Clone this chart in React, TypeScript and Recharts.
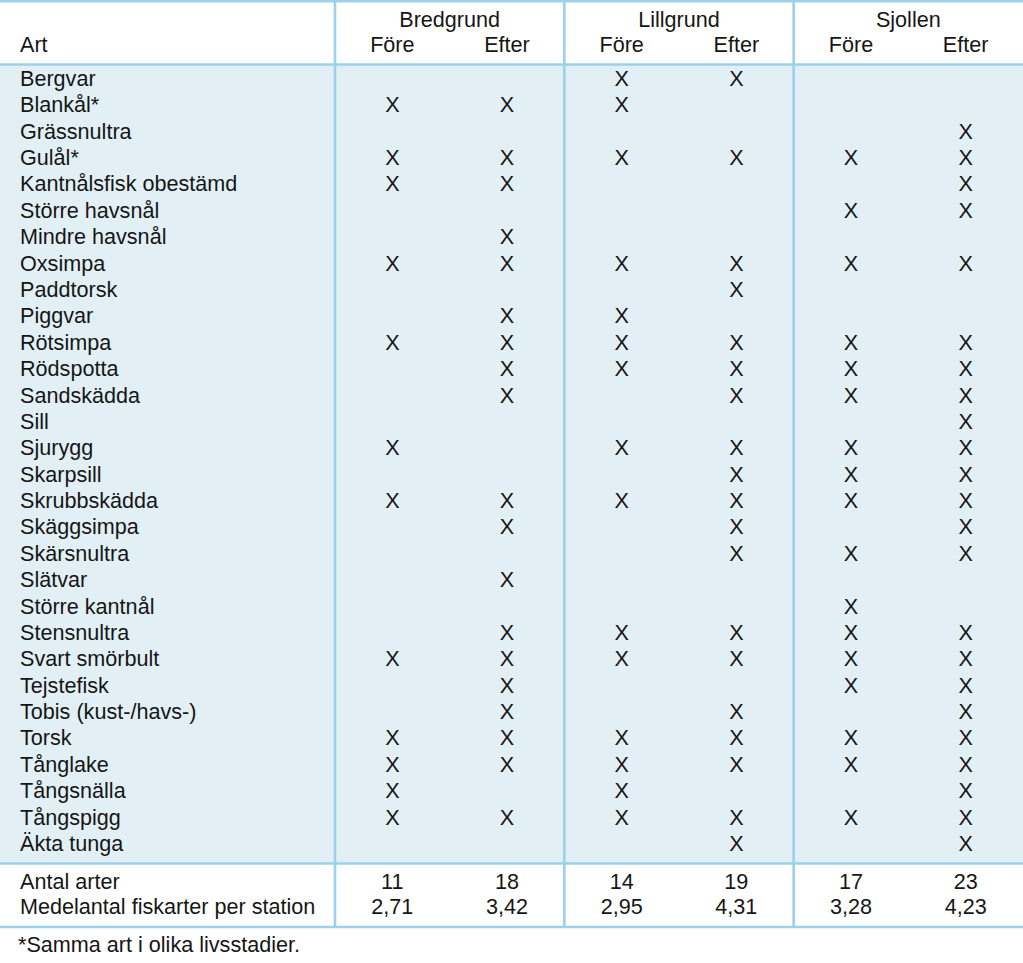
import { ScatterChart, Scatter, XAxis, YAxis, ReferenceLine, ReferenceArea } from "recharts";

const species = [
  "Bergvar", "Blankål*", "Grässnultra", "Gulål*", "Kantnålsfisk obestämd",
  "Större havsnål", "Mindre havsnål", "Oxsimpa", "Paddtorsk", "Piggvar",
  "Rötsimpa", "Rödspotta", "Sandskädda", "Sill", "Sjurygg",
  "Skarpsill", "Skrubbskädda", "Skäggsimpa", "Skärsnultra", "Slätvar",
  "Större kantnål", "Stensnultra", "Svart smörbult", "Tejstefisk", "Tobis (kust-/havs-)",
  "Torsk", "Tånglake", "Tångsnälla", "Tångspigg", "Äkta tunga",
];

const stations = ["Bredgrund", "Lillgrund", "Sjollen"];
const periods = ["Före", "Efter"];

// 1 = arten fångad
const bredgrundFore = [0,1,0,1,1,0,0,1,0,0, 1,0,0,0,1,0,1,0,0,0, 0,0,1,0,0,1,1,1,1,0];
const bredgrundEfter = [0,1,0,1,1,0,1,1,0,1, 1,1,1,0,0,0,1,1,0,1, 0,1,1,1,1,1,1,0,1,0];
const lillgrundFore = [1,1,0,1,0,0,0,1,0,1, 1,1,0,0,1,0,1,0,0,0, 0,1,1,0,0,1,1,1,1,0];
const lillgrundEfter = [1,0,0,1,0,0,0,1,1,0, 1,1,1,0,1,1,1,1,1,0, 0,1,1,0,1,1,1,0,1,1];
const sjollenFore = [0,0,0,1,0,1,0,1,0,0, 1,1,1,0,1,1,1,0,1,0, 1,1,1,1,0,1,1,0,1,0];
const sjollenEfter = [0,0,1,1,1,1,0,1,0,0, 1,1,1,1,1,1,1,1,1,0, 0,1,1,1,1,1,1,1,1,1];

const antalArter = [11, 18, 14, 19, 17, 23];
const medelantal = [2.71, 3.42, 2.95, 4.31, 3.28, 4.23];

const footnote = "*Samma art i olika livsstadier.";

// layout
const W = 1023;
const H = 963;
const LABEL_W = 335;
const BODY_TOP = 65;
const ROW_H = 26.38;
const COL_W = (W - LABEL_W) / 6;
const rowOf = (px: number) => (px - BODY_TOP) / ROW_H - 0.5;
const Y_MIN = rowOf(0);
const Y_MAX = rowOf(H);
const X_MIN = -0.5;
const X_MAX = 5.5;
const X_FULL_LEFT = -0.5 - LABEL_W / COL_W;

const ROW_GROUP = rowOf(19);
const ROW_PERIOD = rowOf(44.5);
const ROW_ANTAL = rowOf(881);
const ROW_MEDEL = rowOf(906.5);
const ROW_FOOT = rowOf(944);

const LINE_TOP = rowOf(1.3);
const LINE_HEAD = rowOf(64.5);
const LINE_BODY = rowOf(863.5);
const LINE_SUM = rowOf(927);

const LINE_COLOR = "#9dd0ea";
const BODY_BG = "#e2f0f5";
const TEXT = "#161616";
const FONT = "'Liberation Sans', Arial, sans-serif";
const FS = 21.6;

const columns = [bredgrundFore, bredgrundEfter, lillgrundFore, lillgrundEfter, sjollenFore, sjollenEfter];

const markData = columns.flatMap((col, c) =>
  col.map((v, r) => (v ? { col: c, row: r, label: "X" } : null)).filter(Boolean)
);

const summaryData = [
  ...antalArter.map((v, c) => ({ col: c, row: ROW_ANTAL, label: String(v) })),
  ...medelantal.map((v, c) => ({ col: c, row: ROW_MEDEL, label: v.toFixed(2).replace(".", ",") })),
];

const headerData = [
  ...stations.map((s, i) => ({ col: i * 2 + 0.5, row: ROW_GROUP, label: s })),
  ...columns.map((_, c) => ({ col: c, row: ROW_PERIOD, label: periods[c % 2] })),
];

const leftTicks = [ROW_PERIOD, ...species.map((_, i) => i), ROW_ANTAL, ROW_MEDEL, ROW_FOOT];
const leftLabels = ["Art", ...species, "Antal arter", "Medelantal fiskarter per station", footnote];

const CellText = (props: any) => {
  const { cx, cy, payload } = props;
  return (
    <text x={cx} y={cy} dy="0.36em" textAnchor="middle" fontFamily={FONT} fontSize={FS} fill={TEXT}>
      {payload.label}
    </text>
  );
};

const LeftTick = (props: any) => {
  const { y, index } = props;
  const label = leftLabels[index];
  return (
    <text x={label === footnote ? 18 : 20} y={y} dy="0.36em" textAnchor="start" fontFamily={FONT} fontSize={FS} fill={TEXT}>
      {label}
    </text>
  );
};

const hLines = [LINE_TOP, LINE_HEAD, LINE_BODY, LINE_SUM];
const vLines = [-0.5, 1.5, 3.5];

export default function App() {
  return (
    <div style={{ position: "absolute", left: 0, top: 0, width: W, height: H, background: "#fff" }}>
      <ScatterChart width={W} height={H} margin={{ top: 0, right: 0, bottom: 0, left: 0 }}>
        <XAxis type="number" dataKey="col" domain={[X_MIN, X_MAX]} allowDataOverflow hide />
        <YAxis
          type="number"
          dataKey="row"
          domain={[Y_MIN, Y_MAX]}
          allowDataOverflow
          reversed
          width={LABEL_W}
          ticks={leftTicks}
          interval={0}
          tick={<LeftTick />}
          axisLine={false}
          tickLine={false}
        />
        <ReferenceArea
          x1={X_FULL_LEFT}
          x2={X_MAX}
          y1={LINE_HEAD}
          y2={LINE_BODY}
          fill={BODY_BG}
          fillOpacity={1}
          stroke="none"
          ifOverflow="visible"
        />
        {hLines.map((y) => (
          <ReferenceLine
            key={`h${y}`}
            segment={[{ x: X_FULL_LEFT, y }, { x: X_MAX, y }]}
            stroke={LINE_COLOR}
            strokeWidth={2.6}
            ifOverflow="visible"
          />
        ))}
        {vLines.map((x) => (
          <ReferenceLine
            key={`v${x}`}
            segment={[{ x, y: LINE_TOP }, { x, y: LINE_SUM }]}
            stroke={LINE_COLOR}
            strokeWidth={2.6}
            ifOverflow="visible"
          />
        ))}
        <Scatter name="header" data={headerData} shape={<CellText />} isAnimationActive={false} />
        <Scatter name="fångst" data={markData} shape={<CellText />} isAnimationActive={false} />
        <Scatter name="summa" data={summaryData} shape={<CellText />} isAnimationActive={false} />
      </ScatterChart>
    </div>
  );
}
